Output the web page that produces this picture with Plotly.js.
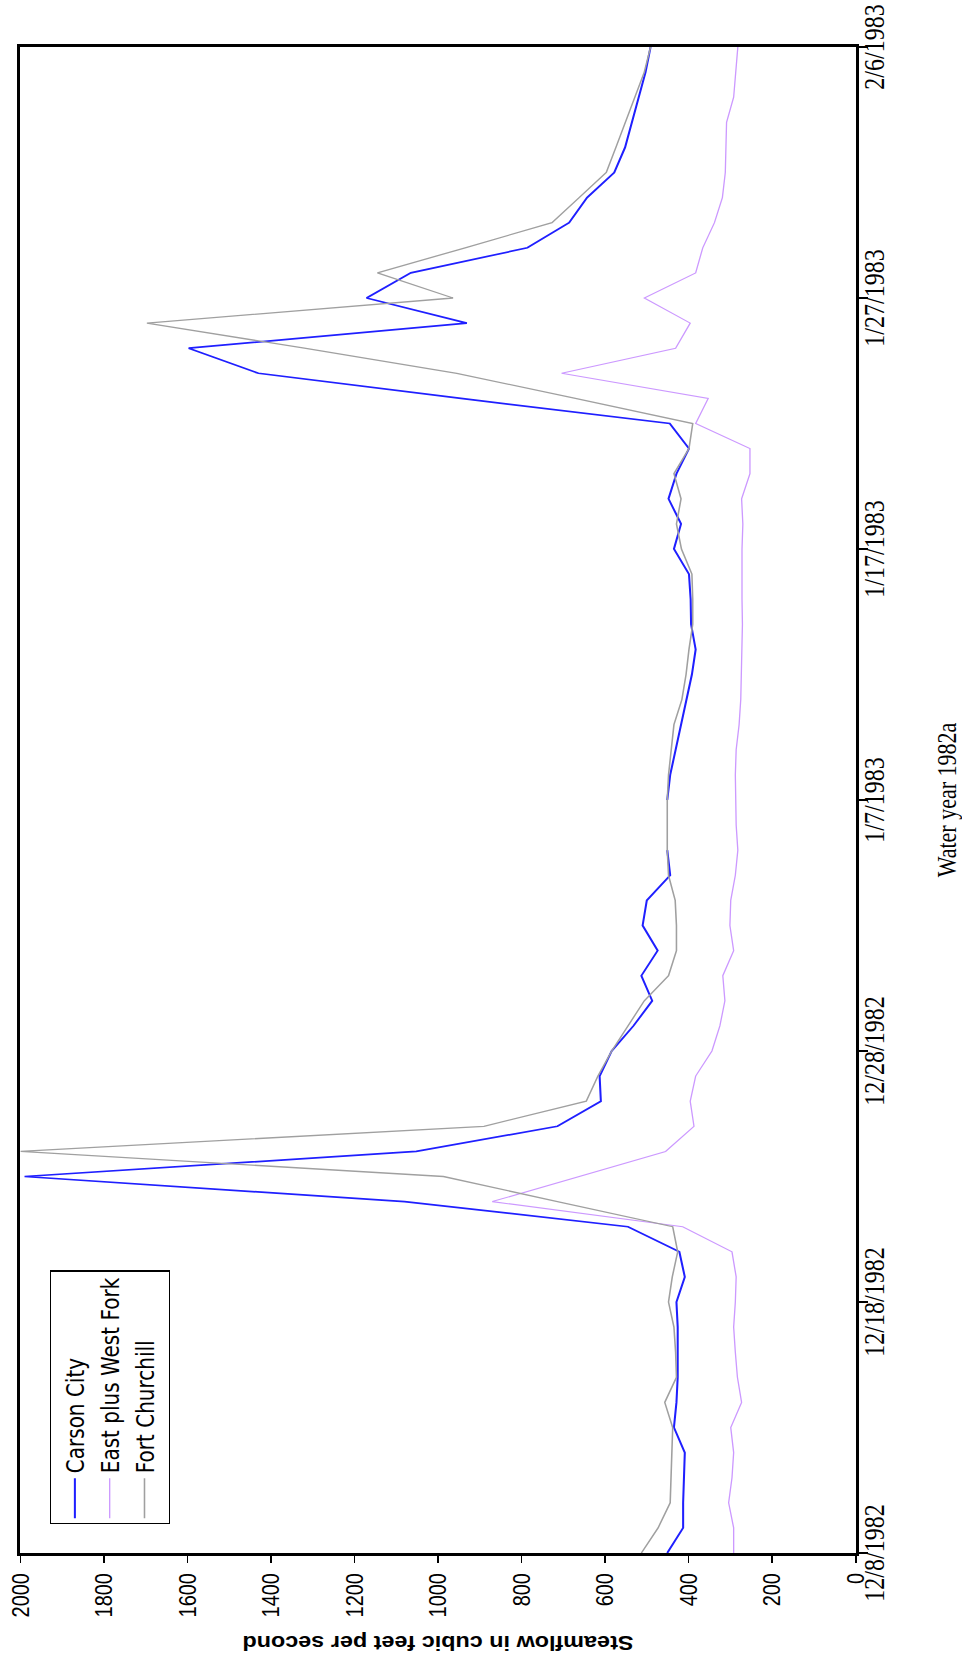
<!DOCTYPE html>
<html>
<head>
<meta charset="utf-8">
<script src="https://cdn.plot.ly/plotly-3.0.1.min.js"></script>
<style>
html, body { margin:0; padding:0; background:#ffffff; width:962px; height:1660px; overflow:hidden; }
#chart {
  position:absolute; left:0; top:0; width:1660px; height:802px;
  transform-origin:0 0;
  transform: translate(0px, 1660px) rotate(-90deg) scale(1, 1.2);
}
</style>
</head>
<body>
<div id="chart"></div>
<script>
// Daily dates, 12/8/1982 - 2/6/1983
const dates = [
  '1982-12-08','1982-12-09','1982-12-10','1982-12-11','1982-12-12','1982-12-13','1982-12-14','1982-12-15','1982-12-16','1982-12-17',
  '1982-12-18','1982-12-19','1982-12-20','1982-12-21','1982-12-22','1982-12-23','1982-12-24','1982-12-25','1982-12-26','1982-12-27',
  '1982-12-28','1982-12-29','1982-12-30','1982-12-31','1983-01-01','1983-01-02','1983-01-03','1983-01-04','1983-01-05','1983-01-06',
  '1983-01-07','1983-01-08','1983-01-09','1983-01-10','1983-01-11','1983-01-12','1983-01-13','1983-01-14','1983-01-15','1983-01-16',
  '1983-01-17','1983-01-18','1983-01-19','1983-01-20','1983-01-21','1983-01-22','1983-01-23','1983-01-24','1983-01-25','1983-01-26',
  '1983-01-27','1983-01-28','1983-01-29','1983-01-30','1983-01-31','1983-02-01','1983-02-02','1983-02-03','1983-02-04','1983-02-05',
  '1983-02-06'
];

const carsonCity = [
  451,413,413,412,409,435,429,426,426,426,
  429,409,422,545,1080,1990,1052,714,610,613,
  584,532,487,513,474,510,500,444,451,null,
  451,444,431,418,403,392,383,394,395,399,
  435,418,448,429,399,445,945,1430,1597,931,
  1171,1065,786,686,643,578,552,535,519,503,
  491
];

const eastPlusWestFork = [
  292,292,304,296,292,299,273,283,288,292,
  288,286,296,414,870,662,455,387,396,383,
  344,325,313,318,292,301,299,288,282,286,
  288,288,286,279,275,273,272,271,272,273,
  272,270,273,253,253,383,353,704,431,396,
  506,383,366,338,319,312,310,309,292,288,
  282
];

const fortChurchill = [
  513,473,444,442,442,438,457,429,431,435,
  448,439,426,438,714,987,2000,890,645,617,
  584,545,506,448,429,429,432,448,451,451,
  451,448,442,435,416,406,399,390,390,392,
  417,429,418,435,399,390,671,955,1320,1697,
  964,1145,935,727,662,597,574,552,529,506,
  491
];

const seriesNames = ['Carson City', 'East plus West Fork', 'Fort Churchill'];
const dateTickVals = ['1982-12-08','1982-12-18','1982-12-28','1983-01-07','1983-01-17','1983-01-27','1983-02-06'];
const dateTickText = ['12/8/1982','12/18/1982','12/28/1982','1/7/1983','1/17/1983','1/27/1983','2/6/1983'];
const valueTickVals = [0,200,400,600,800,1000,1200,1400,1600,1800,2000];

const traces = [
  { x: dates, y: carsonCity, name: seriesNames[0], type: 'scatter', mode: 'lines',
    connectgaps: false, line: { color: '#1f1fff', width: 1.7 } },
  { x: dates, y: eastPlusWestFork, name: seriesNames[1], type: 'scatter', mode: 'lines',
    line: { color: '#cc99ff', width: 1.1 } },
  { x: dates, y: fortChurchill, name: seriesNames[2], type: 'scatter', mode: 'lines',
    line: { color: '#a0a0a0', width: 1.3 } }
];

const layout = {
  width: 1660, height: 802,
  margin: { l: 107, r: 47, t: 17, b: 89, pad: 0 },
  paper_bgcolor: '#ffffff', plot_bgcolor: '#ffffff',
  font: { family: 'Liberation Sans, Arial, sans-serif', color: '#000000', size: 20 },
  showlegend: true,
  legend: {
    x: 0.019, y: 0.9645, xanchor: 'left', yanchor: 'top',
    bgcolor: '#ffffff', bordercolor: '#000000', borderwidth: 1.2,
    itemwidth: 40,
    font: { family: 'DejaVu Sans, Liberation Sans, Arial, sans-serif', size: 20, color: '#000000' },
    traceorder: 'normal'
  },
  xaxis: {
    type: 'date',
    range: [dates[0], dates[dates.length - 1]],
    tickmode: 'array', tickvals: dateTickVals, ticktext: dateTickText,
    tickangle: 0,
    ticks: 'outside', ticklen: 7, tickwidth: 1.5, tickcolor: '#000000',
    ticklabelstandoff: -15,
    tickfont: { family: 'Liberation Serif, Times New Roman, serif', size: 24, color: '#000000' },
    showline: true, linewidth: 3, linecolor: '#000000', mirror: true,
    showgrid: false, zeroline: false, automargin: false,
    title: { text: 'Water year 1982a', font: { family: 'Liberation Serif, Times New Roman, serif', size: 22, color: '#000000' }, standoff: 50 }
  },
  yaxis: {
    range: [0, 2000],
    tickmode: 'array', tickvals: valueTickVals,
    ticks: 'outside', ticklen: 7, tickwidth: 1.5, tickcolor: '#000000',
    ticklabelstandoff: 6,
    tickfont: { family: 'Liberation Sans, Arial, sans-serif', size: 20, color: '#000000' },
    showline: true, linewidth: 3, linecolor: '#000000', mirror: true,
    showgrid: false, zeroline: false, automargin: false,
    title: { text: 'Steamflow in cubic feet per second', font: { family: 'Liberation Sans, Arial, sans-serif', size: 19.5, weight: 'bold', color: '#000000' }, standoff: 13 }
  }
};

Plotly.newPlot('chart', traces, layout, { staticPlot: true, displayModeBar: false });
</script>
</body>
</html>
